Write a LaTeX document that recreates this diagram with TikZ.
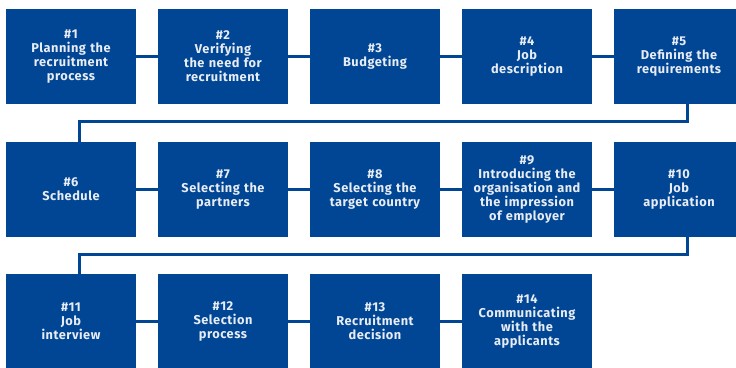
\documentclass[tikz,border=0pt]{standalone}
\usepackage{fontspec}
\setmainfont[LetterSpace=4]{Fira Sans}
\begin{document}
\definecolor{eublue}{RGB}{0,70,148}
\definecolor{boxtext}{RGB}{232,236,244}
\begin{tikzpicture}[x=1pt,y=-1pt,
  stepbox/.style={fill=eublue, draw=none, minimum width=130pt, minimum height=95pt,
    text width=128pt, align=center, inner sep=0pt, text=boxtext,
    font=\fontsize{12.8}{14}\selectfont\bfseries},
  link/.style={draw=eublue, line width=3pt}]
\useasboundingbox (0,0) rectangle (736,367);
% row 1
\node[stepbox] (n1) at (71,56.5)  {\#1\\Planning the\\recruitment\\process};
\node[stepbox] (n2) at (223,56.5) {\#2\\Verifying\\the need for\\recruitment};
\node[stepbox] (n3) at (375,56.5) {\#3\\Budgeting};
\node[stepbox] (n4) at (527,56.5) {\#4\\Job\\description};
\node[stepbox] (n5) at (679,56.5) {\#5\\Defining the\\requirements};
% row 2
\node[stepbox] (n6)  at (71,189.5)  {\#6\\Schedule};
\node[stepbox] (n7)  at (223,189.5) {\#7\\Selecting the\\partners};
\node[stepbox] (n8)  at (375,189.5) {\#8\\Selecting the\\target country};
\node[stepbox] (n9)  at (527,189.5) {\#9\\Introducing the\\organisation and\\the impression\\of employer};
\node[stepbox] (n10) at (679,189.5) {\#10\\Job\\application};
% row 3
\node[stepbox] (n11) at (71,321.5)  {\#11\\Job\\interview};
\node[stepbox] (n12) at (223,321.5) {\#12\\Selection\\process};
\node[stepbox] (n13) at (375,321.5) {\#13\\Recruitment\\decision};
\node[stepbox] (n14) at (527,321.5) {\#14\\Communicating\\with the\\applicants};
% connectors within rows
\draw[link] (n1) -- (n2);
\draw[link] (n2) -- (n3);
\draw[link] (n3) -- (n4);
\draw[link] (n4) -- (n5);
\draw[link] (n6) -- (n7);
\draw[link] (n7) -- (n8);
\draw[link] (n8) -- (n9);
\draw[link] (n9) -- (n10);
\draw[link] (n11) -- (n12);
\draw[link] (n12) -- (n13);
\draw[link] (n13) -- (n14);
% return connectors between rows
\coordinate (r1) at (687,121.5);
\coordinate (r2) at (687,254.5);
\draw[link] ([xshift=8pt]n5.south) -- (r1) -| ([xshift=8pt]n6.north);
\draw[link] ([xshift=8pt]n10.south) -- (r2) -| ([xshift=8pt]n11.north);
\end{tikzpicture}
\end{document}
